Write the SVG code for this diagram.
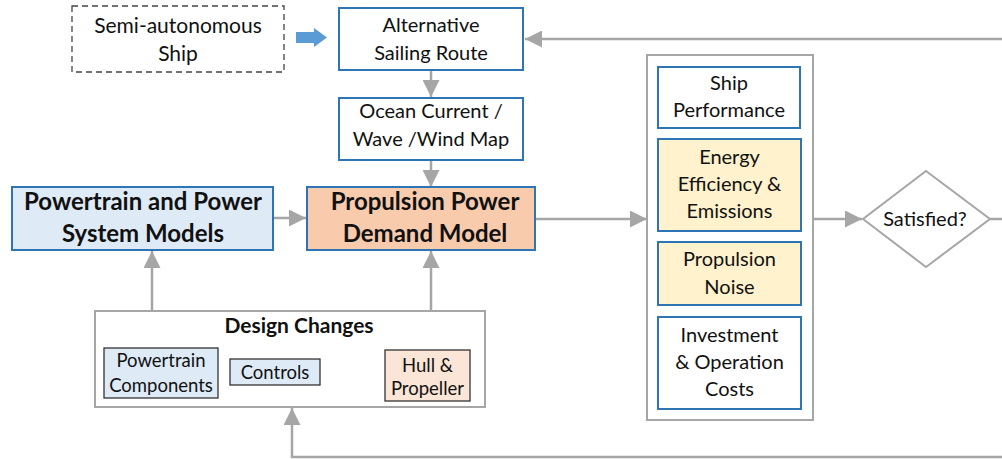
<svg xmlns="http://www.w3.org/2000/svg" width="1002" height="459" viewBox="0 0 1002 459">
  <defs>
    <style>
      text { font-family: Lato, "Open Sans", "Liberation Sans", sans-serif; fill: #111; text-anchor: middle; }
      .t18 { font-size: 21px; }
      .t17 { font-size: 20px; }
      .t16 { font-size: 18.5px; }
      .b22 { font-size: 24px; font-weight: bold; }
      .b18 { font-size: 21px; font-weight: bold; }
      .blue { fill: #fff; stroke: #2E75B6; stroke-width: 2; }
      .gray { fill: #fff; stroke: #A6A6A6; stroke-width: 2; }
      .inner { stroke: #333; stroke-width: 1.3; }
      .conn { fill: none; stroke: #A6A6A6; stroke-width: 2.5; }
    </style>
    <marker id="ahL" viewBox="0 0 10 10" refX="10" refY="5" markerWidth="17" markerHeight="17" orient="auto" markerUnits="userSpaceOnUse">
      <path d="M0,0 L10,5 L0,10 Z" fill="#A6A6A6"/>
    </marker>
  </defs>

  <!-- connectors -->
  <g id="connectors">
    <line class="conn" x1="431" y1="70" x2="431" y2="97" marker-end="url(#ahL)"/>
    <line class="conn" x1="431" y1="160" x2="431" y2="187" marker-end="url(#ahL)"/>
    <line class="conn" x1="273" y1="218" x2="306" y2="218" marker-end="url(#ahL)"/>
    <line class="conn" x1="152" y1="311" x2="152" y2="251" marker-end="url(#ahL)"/>
    <line class="conn" x1="431" y1="311" x2="431" y2="251" marker-end="url(#ahL)"/>
    <line class="conn" x1="535" y1="219" x2="647" y2="219" marker-end="url(#ahL)"/>
    <line class="conn" x1="813" y1="219" x2="862" y2="219" marker-end="url(#ahL)"/>
    <line class="conn" x1="990" y1="219" x2="1002" y2="219"/>
    <line class="conn" x1="1002" y1="39" x2="525" y2="39" marker-end="url(#ahL)"/>
    <polyline class="conn" points="1002,457 292,457 292,408" marker-end="url(#ahL)"/>
    <!-- blue block arrow -->
    <path d="M296,32 H314 V28 L327,37.5 L314,47 V43 H296 Z" fill="#5B9BD5"/>
  </g>

  <g id="semi-autonomous-ship">
    <rect x="72" y="6" width="212" height="66" fill="#fff" stroke="#444" stroke-width="1.3" stroke-dasharray="6,4"/>
    <text class="t18" x="178" y="33">Semi-autonomous</text>
    <text class="t18" x="178" y="61">Ship</text>
  </g>

  <g id="alternative-route">
    <rect class="blue" x="339" y="8" width="184" height="62"/>
    <text class="t17" x="431" y="32">Alternative</text>
    <text class="t17" x="431" y="60">Sailing Route</text>
  </g>

  <g id="ocean-map">
    <rect class="blue" x="339" y="98" width="184" height="62"/>
    <text class="t17" x="431" y="118">Ocean Current /</text>
    <text class="t17" x="431" y="146">Wave /Wind Map</text>
  </g>

  <g id="powertrain-models">
    <rect x="12" y="187" width="261" height="63" fill="#DEEBF7" stroke="#2E75B6" stroke-width="2"/>
    <text class="b22" x="143" y="210">Powertrain and Power</text>
    <text class="b22" x="143" y="242">System Models</text>
  </g>

  <g id="propulsion-model">
    <rect x="307" y="187" width="228" height="63" fill="#F8CBAD" stroke="#2E75B6" stroke-width="2"/>
    <text class="b22" x="425" y="210">Propulsion Power</text>
    <text class="b22" x="425" y="242">Demand Model</text>
  </g>

  <g id="design-changes">
    <rect class="gray" x="95" y="311" width="390" height="96"/>
    <text class="b18" x="299" y="333">Design Changes</text>
    <g id="powertrain-components">
      <rect class="inner" x="104" y="348" width="114" height="50" fill="#DEEBF7"/>
      <text class="t16" x="161" y="367">Powertrain</text>
      <text class="t16" x="161" y="392">Components</text>
    </g>
    <g id="controls">
      <rect class="inner" x="230" y="359" width="90" height="26" fill="#DEEBF7"/>
      <text class="t16" x="275" y="379">Controls</text>
    </g>
    <g id="hull-propeller">
      <rect class="inner" x="385" y="350" width="85" height="51" fill="#FBE5D6"/>
      <text class="t16" x="427.5" y="372">Hull &amp;</text>
      <text class="t16" x="427.5" y="395">Propeller</text>
    </g>
  </g>

  <g id="evaluation">
    <rect class="gray" x="647" y="55" width="166" height="365"/>
    <g id="ship-performance">
      <rect class="blue" x="658" y="67" width="142" height="61"/>
      <text class="t17" x="729" y="90">Ship</text>
      <text class="t17" x="729" y="117">Performance</text>
    </g>
    <g id="energy-efficiency">
      <rect x="658" y="139" width="143" height="92" fill="#FFF2CC" stroke="#2E75B6" stroke-width="2"/>
      <text class="t17" x="729.5" y="164">Energy</text>
      <text class="t17" x="729.5" y="191">Efficiency  &amp;</text>
      <text class="t17" x="729.5" y="218">Emissions</text>
    </g>
    <g id="propulsion-noise">
      <rect x="658" y="242" width="143" height="63" fill="#FFF2CC" stroke="#2E75B6" stroke-width="2"/>
      <text class="t17" x="729.5" y="266">Propulsion</text>
      <text class="t17" x="729.5" y="294">Noise</text>
    </g>
    <g id="costs">
      <rect class="blue" x="658" y="317" width="143" height="92"/>
      <text class="t17" x="729.5" y="342">Investment</text>
      <text class="t17" x="729.5" y="369">&amp; Operation</text>
      <text class="t17" x="729.5" y="396">Costs</text>
    </g>
  </g>

  <g id="satisfied">
    <polygon points="926,171 990,219 926,267 863,219" fill="#fff" stroke="#A6A6A6" stroke-width="2"/>
    <text class="t17" x="925" y="226">Satisfied?</text>
  </g>
</svg>
